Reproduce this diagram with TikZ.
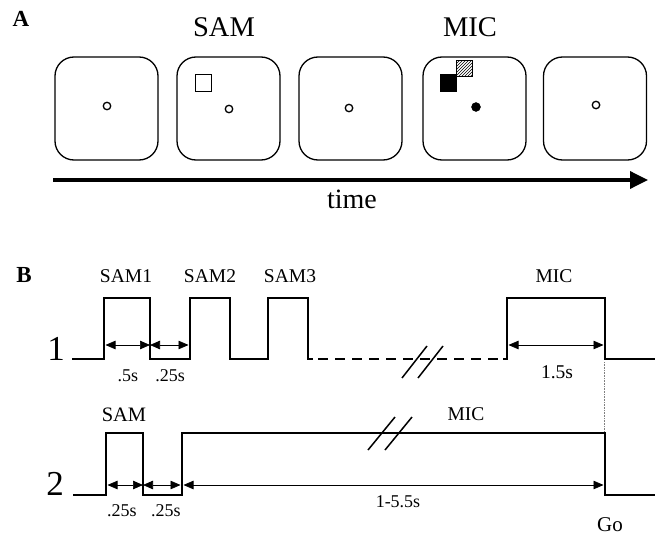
\documentclass[tikz,border=0pt]{standalone}
\usepackage{fontspec}
\setmainfont{Liberation Serif}
\usetikzlibrary{arrows.meta,patterns}
\begin{document}
\begin{tikzpicture}[x=1pt,y=-1pt,
  screen/.style={draw,line width=1.3pt,rounded corners=19pt,minimum width=103pt,minimum height=103pt,inner sep=0pt},
  fix/.style={draw,circle,line width=1.3pt,minimum size=7.5pt,inner sep=0pt},
  sig/.style={line width=2.8pt,line join=miter},
  dim/.style={line width=0.7pt,{Triangle[length=10pt,width=8.5pt]}-{Triangle[length=10pt,width=8.5pt]}},
  slash/.style={line width=1.5pt},
  lbl/.style={inner sep=0pt,anchor=center,font=\fontsize{19.5}{20}\selectfont},
  big/.style={inner sep=0pt,anchor=center,font=\fontsize{28.5}{30}\selectfont},
  row/.style={inner sep=0pt,anchor=center,font=\fontsize{35}{36}\selectfont},
  panel/.style={inner sep=0pt,anchor=center,font=\fontsize{23}{24}\selectfont\bfseries}]
\useasboundingbox (0,0) rectangle (661,535);
% Panel A
\node[panel] (A) at (21,19) {A};
\node[big] (samA) at (224,27.5) {SAM};
\node[big] (micA) at (470,27.5) {MIC};
\node[screen] (s1) at (106.5,108.5) {};
\node[screen] (s2) at (228.5,108.5) {};
\node[screen] (s3) at (350.5,108.5) {};
\node[screen] (s4) at (474.5,108.5) {};
\node[screen] (s5) at (595,108.5) {};
\node[fix] (f1) at (107,106) {};
\node[fix] (f2) at (229,109) {};
\node[fix] (f3) at (349,108) {};
\node[fix] (f5) at (596,105) {};
\node[draw,circle,fill=black,minimum size=9pt,inner sep=0pt] (f4) at (476,107) {};
\node[draw,line width=0.9pt,minimum size=16.5pt,inner sep=0pt] (t2) at (203.5,83) {};
\node[draw,fill=black,line width=0.6pt,minimum size=16.5pt,inner sep=0pt] (t4a) at (448.5,83) {};
\node[draw,line width=0.9pt,pattern=north east lines,minimum size=16.5pt,inner sep=0pt] (t4b) at (464.5,68.5) {};
\coordinate (tl0) at (53,180);
\coordinate (tl1) at (648,180);
\draw[line width=3.5pt,-{Triangle[length=18pt,width=17pt]}] (tl0) -- (tl1);
\node[inner sep=0pt,anchor=center,font=\fontsize{28}{30}\selectfont] (time) at (352,199) {time};
% Panel B
\node[panel] (B) at (24,275) {B};
\node[row] (r1) at (56,349) {1};
\node[row] (r2) at (55,484) {2};
% row 1 signal
\draw[sig] (72,359) -- (104,359) -- (104,298) -- (150,298) -- (150,359) -- (190,359) -- (190,298) -- (230,298) -- (230,359) -- (268,359) -- (268,298) -- (308,298) -- (308,359) -- (313,359);
\draw[sig,dash pattern=on 10pt off 7pt] (318,359) -- (503,359);
\draw[sig] (503,359) -- (507,359) -- (507,298) -- (605,298) -- (605,359) -- (655,359);
\draw[slash] (402,378) -- (427,346);
\draw[slash] (418,378) -- (443,346);
% row 1 dims
\coordinate (a1) at (105.5,345);
\coordinate (a2) at (150,345);
\coordinate (a3) at (188.5,345);
\coordinate (a4) at (508.5,345);
\coordinate (a5) at (603.5,345);
\draw[dim] (a1) -- (a2);
\draw[dim] (a2) -- (a3);
\draw[dim] (a4) -- (a5);
\node[lbl] (sam1) at (126,276) {SAM1};
\node[lbl] (sam2) at (210,276) {SAM2};
\node[lbl] (sam3) at (290,276) {SAM3};
\node[lbl] (mic1) at (554,276) {MIC};
\node[lbl,font=\fontsize{18}{19}\selectfont] (d1) at (128,376) {.5s};
\node[lbl,font=\fontsize{18}{19}\selectfont] (d2) at (170,376) {.25s};
\node[lbl] (d3) at (557,372) {1.5s};
% connecting dotted line
\coordinate (g1) at (604.5,362);
\coordinate (g2) at (604.5,432);
\draw[gray,line width=0.6pt,densely dotted] (g1) -- (g2);
% row 2 signal
\draw[sig] (73,495) -- (106,495) -- (106,433) -- (143,433) -- (143,495) -- (182,495) -- (182,433) -- (605,433) -- (605,495) -- (655,495);
\draw[slash] (368,450) -- (395,417);
\draw[slash] (385,450) -- (412,417);
\coordinate (b1) at (107.5,485);
\coordinate (b2) at (143,485);
\coordinate (b3) at (180.5,485);
\coordinate (b4) at (183.5,485);
\coordinate (b5) at (603.5,485);
\draw[dim] (b1) -- (b2);
\draw[dim] (b2) -- (b3);
\draw[dim] (b4) -- (b5);
\node[lbl,font=\fontsize{20.5}{21}\selectfont] (sam) at (124,415) {SAM};
\node[lbl] (mic2) at (466,414) {MIC};
\node[lbl,font=\fontsize{18}{19}\selectfont] (e1) at (122,511) {.25s};
\node[lbl,font=\fontsize{18}{19}\selectfont] (e2) at (166,511) {.25s};
\node[lbl,font=\fontsize{18}{19}\selectfont] (e3) at (398,502) {1-5.5s};
\node[lbl,font=\fontsize{21}{22}\selectfont] (go) at (610,525) {Go};
\end{tikzpicture}
\end{document}
